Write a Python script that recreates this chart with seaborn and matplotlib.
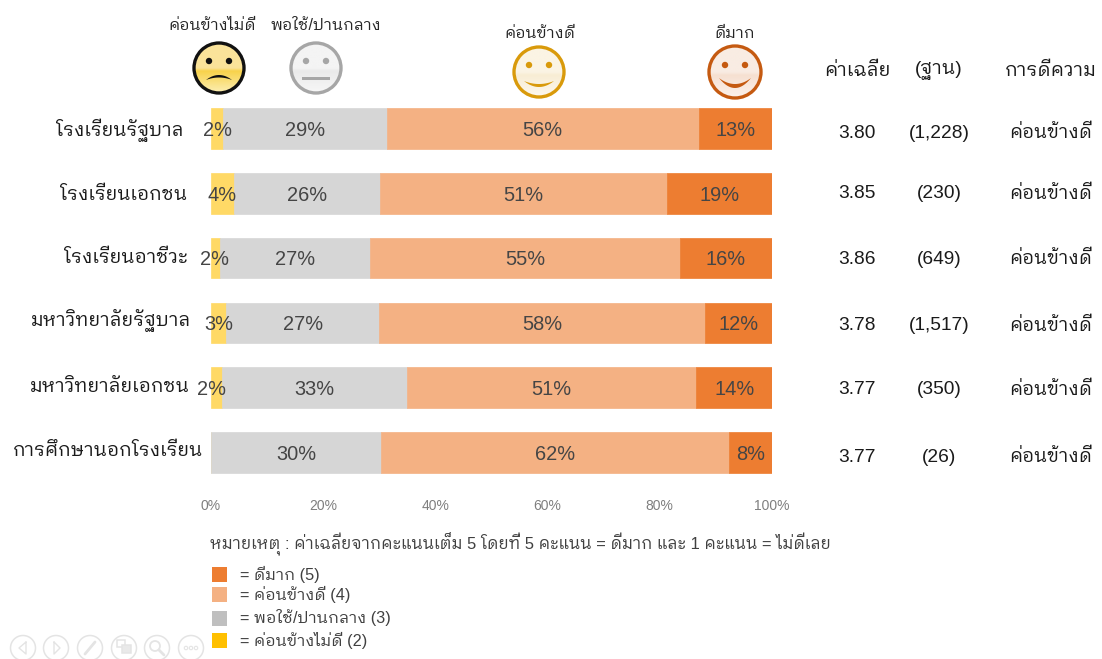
import numpy as np
import pandas as pd
import matplotlib
matplotlib.use("Agg")
import matplotlib.pyplot as plt
from matplotlib.colors import to_rgb
from matplotlib.patches import Circle, Rectangle
import seaborn as sns

groups = ["โรงเรียนรัฐบาล", "โรงเรียนเอกชน", "โรงเรียนอาชีวะ",
          "มหาวิทยาลัยรัฐบาล", "มหาวิทยาลัยเอกชน", "การศึกษานอกโรงเรียน"]
fair_minus = [2.2, 4.1, 1.6, 2.7, 2.0, 0.0]
fair = [29.1, 26.0, 26.7, 27.3, 33.0, 30.3]
good = [55.6, 51.2, 55.3, 58.1, 51.5, 62.0]
very_good = [13.1, 18.7, 16.4, 11.9, 13.5, 7.7]

fair_minus_labels = ["2%", "4%", "2%", "3%", "2%", ""]
fair_labels = ["29%", "26%", "27%", "27%", "33%", "30%"]
good_labels = ["56%", "51%", "55%", "58%", "51%", "62%"]
very_good_labels = ["13%", "19%", "16%", "12%", "14%", "8%"]

means = ["3.80", "3.85", "3.86", "3.78", "3.77", "3.77"]
bases = ["(1,228)", "(230)", "(649)", "(1,517)", "(350)", "(26)"]
verdicts = ["ค่อนข้างดี"] * 6

legend_names = ["= ดีมาก (5)", "= ค่อนข้างดี (4)", "= พอใช้/ปานกลาง (3)", "= ค่อนข้างไม่ดี (2)"]
note = "หมายเหตุ : ค่าเฉลี่ยจากคะแนนเต็ม 5 โดยที่ 5 คะแนน = ดีมาก และ 1 คะแนน = ไม่ดีเลย"

sns.set_theme(style="white")
thai = ["Liberation Sans", "IBM Plex Sans Thai Looped", "DejaVu Sans"]
plt.rcParams["font.family"] = thai

W, H = 1102, 659
fig = plt.figure(figsize=(W / 100, H / 100), dpi=100)

# bars
ax = fig.add_axes([211 / W, 1 - 485 / H, 561 / W, 389 / H])
df = pd.DataFrame({"group": groups, "y": fair_minus, "f": fair, "g": good, "v": very_good})
left = np.zeros(len(df))
layers = [("y", "#FFD966", fair_minus_labels), ("f", "#D6D6D6", fair_labels),
          ("g", "#F4B183", good_labels), ("v", "#ED7D31", very_good_labels)]
small_shift = [0, 0, -1, 0, -5, 0]
for col, color, labels in layers:
    sns.barplot(data=df, x=col, y="group", left=left, color=color, width=0.625, ax=ax,
                saturation=1, edgecolor=color, linewidth=0.5)
    texts = ax.bar_label(ax.containers[-1], labels=labels, label_type="center",
                         fontsize=14.4, color="#454545")
    for i, t in enumerate(texts):
        t.xyann = ((small_shift[i] if col == "y" else 0) * 0.72, -1.3)
    left = left + df[col].to_numpy()

ax.set_xlim(0, 100)
ax.set_xticks([0, 20, 40, 60, 80, 100])
ax.set_xticklabels(["0%", "20%", "40%", "60%", "80%", "100%"], fontsize=10, color="#7F7F7F")
ax.tick_params(axis="x", length=0, pad=10)
ax.set_yticks([])
ax.set_xlabel("")
ax.set_ylabel("")
sns.despine(ax=ax, left=True, bottom=True)

# overlay in picture pixels for the text columns, faces and key
ov = fig.add_axes([0, 0, 1, 1], facecolor="none")
ov.axis("off")

label_right = [184, 187, 188, 191, 190, 203]
label_y = [130, 195, 258, 321, 387, 451]
for name, x, y in zip(groups, label_right, label_y):
    ov.text(x, y, name, ha="right", va="center", fontsize=13.7, color="#1A1A1A")

row_y = [133, 194, 259, 326, 390, 457]
for m, b, v, y in zip(means, bases, verdicts, row_y):
    ov.text(857, y, m, ha="center", va="center", fontsize=13.8, color="#1A1A1A")
    ov.text(939, y, b, ha="center", va="center", fontsize=13.8, color="#1A1A1A")
    ov.text(1051, y, v, ha="center", va="center", fontsize=13.5, color="#1A1A1A")

for txt, x in zip(["ค่าเฉลี่ย", "(ฐาน)", "การดีความ"], [857, 939, 1051]):
    ov.text(x, 71, txt, ha="center", va="center", fontsize=13.8, color="#1A1A1A")

for txt, x, y in [("ค่อนข้างไม่ดี", 212, 26), ("พอใช้/ปานกลาง", 326, 26),
                  ("ค่อนข้างดี", 540, 33), ("ดีมาก", 735, 33)]:
    ov.text(x, y, txt, ha="center", va="center", fontsize=11.5, color="#262626")


def crescent(cx, y_end, half, y_low, y_up, color):
    # closed shape between two parabolas, ends at cx +- half
    t = np.linspace(-1, 1, 41)
    xs = cx + half * t
    low = y_end + (y_low - y_end) * (1 - t ** 2)
    up = y_end + (y_up - y_end) * (1 - t ** 2)
    ov.fill(np.r_[xs, xs[::-1]], np.r_[low, up[::-1]], color=color, lw=0, zorder=5)


def face(cx, cy, r, edge, top, mid, bottom, feature):
    rows = np.linspace(0, 1, 128)
    pos = [0, 0.5, 0.56, 1]
    stops = np.array([to_rgb(top), to_rgb(top), to_rgb(mid), to_rgb(bottom)])
    img = np.stack([np.interp(rows, pos, stops[:, k]) for k in range(3)], axis=1)[:, None, :]
    im = ov.imshow(img, extent=(cx - r, cx + r, cy + r, cy - r), aspect="auto",
                   interpolation="bilinear", zorder=3)
    im.set_clip_path(Circle((cx, cy), r, transform=ov.transData))
    ov.add_patch(Circle((cx, cy), r, fc="none", ec=edge, lw=2.4, zorder=4))
    for dx in (-10, 10):
        ov.add_patch(Circle((cx + dx, cy - 7), 3.2, fc=feature, ec="none", zorder=5))


face(219, 68, 25, "#111111", "#FAE39A", "#F8D24A", "#FCEFB5", "#111111")
crescent(219, 80, 13, 75, 77.5, "#111111")
face(316, 68, 25, "#A6A6A6", "#F4F4F4", "#EAEAEA", "#F7F7F7", "#A6A6A6")
ov.add_patch(Rectangle((302, 77), 28, 3, fc="#A6A6A6", ec="none", zorder=5))
face(539, 72, 25, "#D99A0B", "#FBF4E4", "#F8EDD4", "#FDF8EE", "#D99A0B")
crescent(539, 81, 15, 87, 84, "#D99A0B")
face(735, 72, 26, "#C55A11", "#F9ECE3", "#F6E0D1", "#FCF2EC", "#C55A11")
crescent(735, 78, 16, 88, 84, "#C55A11")

ov.text(210, 543, note, ha="left", va="center", fontsize=11.9, color="#404040")

key_colors = ["#ED7D31", "#F4B183", "#BFBFBF", "#FFC000"]
key_y = [574, 594, 618, 640]
for name, color, y in zip(legend_names, key_colors, key_y):
    ov.add_patch(Rectangle((212, y - 7.5), 15, 15, fc=color, ec="none"))
    ov.text(240, y, name, ha="left", va="center", fontsize=11.7, color="#404040")

# slide player controls, faint
ctrl = "#E4E4E4"
for cx in [23, 56, 90, 124, 157, 191]:
    ov.add_patch(Circle((cx, 648), 12.5, fc="white", ec=ctrl, lw=1.1))
ov.plot([26, 19, 26, 26], [642, 648, 654, 642], color=ctrl, lw=1)
ov.plot([54, 60, 54, 54], [642, 648, 654, 642], color=ctrl, lw=1)
ov.plot([85, 95], [654, 642], color=ctrl, lw=2)
ov.add_patch(Rectangle((117, 640), 8, 7, fc="none", ec=ctrl, lw=1.1))
ov.add_patch(Rectangle((122, 645), 9, 8, fc="#E9E9E9", ec=ctrl, lw=1.1))
ov.add_patch(Circle((155, 646), 5, fc="none", ec=ctrl, lw=1.3))
ov.plot([159, 164], [650, 655], color=ctrl, lw=2)
for dx in (-5, 0, 5):
    ov.add_patch(Circle((191 + dx, 648), 1.7, fc="none", ec=ctrl, lw=0.8))

# imshow and the patches move the limits, so fix them last
ov.set_xlim(0, W)
ov.set_ylim(H, 0)

fig.savefig("out.png", dpi=100, facecolor="white")
